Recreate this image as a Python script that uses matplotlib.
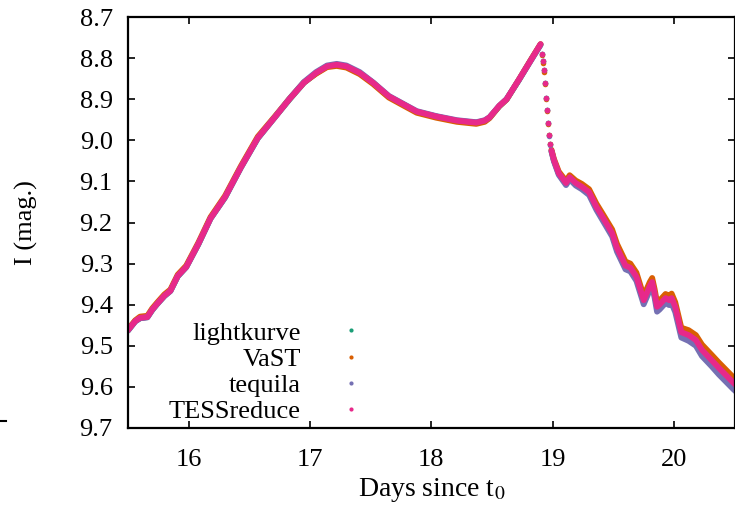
import matplotlib
matplotlib.use("Agg")
import matplotlib.pyplot as plt
from matplotlib.lines import Line2D

# time grids (days since t0): slow rise + plateau, fast drop, decline
t_rise = [15.50, 15.56, 15.60, 15.66, 15.70, 15.74, 15.80, 15.85, 15.91, 15.98,
          16.08, 16.18, 16.30, 16.43, 16.57, 16.71, 16.83, 16.95, 17.05, 17.14,
          17.22, 17.30, 17.41, 17.52, 17.65, 17.78, 17.88, 18.04, 18.21, 18.37,
          18.44, 18.48, 18.56, 18.62, 18.72, 18.82, 18.90]
t_drop = [18.910, 18.920, 18.930, 18.940, 18.946, 18.953, 18.960, 18.967, 18.974]
t_fall = [18.99, 19.01, 19.05, 19.11, 19.14, 19.19, 19.24, 19.30, 19.36, 19.41,
          19.49, 19.53, 19.60, 19.64, 19.69, 19.75, 19.80, 19.82, 19.84, 19.86,
          19.88, 19.93, 19.96, 19.98, 20.01, 20.06, 20.12, 20.18, 20.23, 20.31,
          20.37, 20.49, 20.52]

tessreduce_rise = [9.462, 9.440, 9.432, 9.430, 9.412, 9.398, 9.378, 9.366, 9.330, 9.308,
                   9.252, 9.190, 9.138, 9.066, 8.994, 8.944, 8.900, 8.860, 8.836, 8.820,
                   8.816, 8.820, 8.836, 8.860, 8.893, 8.914, 8.930, 8.942, 8.952, 8.957,
                   8.952, 8.944, 8.916, 8.900, 8.853, 8.805, 8.766]
tessreduce_drop = [8.790, 8.807, 8.830, 8.860, 8.897, 8.926, 8.958, 8.987, 9.010]
tessreduce_fall = [9.025, 9.048, 9.080, 9.104, 9.090, 9.104, 9.113, 9.126, 9.162, 9.186,
                   9.226, 9.262, 9.305, 9.310, 9.332, 9.389, 9.355, 9.345, 9.372, 9.405,
                   9.400, 9.384, 9.389, 9.384, 9.405, 9.467, 9.474, 9.486, 9.510, 9.535,
                   9.554, 9.590, 9.598]

vast_rise = [9.460, 9.438, 9.429, 9.427, 9.409, 9.395, 9.375, 9.363, 9.327, 9.305,
             9.249, 9.187, 9.135, 9.063, 8.991, 8.942, 8.899, 8.859, 8.838, 8.822,
             8.819, 8.823, 8.839, 8.863, 8.896, 8.917, 8.933, 8.945, 8.955, 8.960,
             8.955, 8.946, 8.917, 8.901, 8.853, 8.804, 8.766]
vast_drop = [8.792, 8.812, 8.834, 8.864, 8.899, 8.929, 8.960, 8.988, 9.008]
vast_fall = [9.023, 9.045, 9.076, 9.099, 9.085, 9.098, 9.106, 9.119, 9.154, 9.178,
             9.217, 9.252, 9.295, 9.300, 9.322, 9.379, 9.345, 9.335, 9.362, 9.395,
             9.390, 9.374, 9.378, 9.373, 9.394, 9.456, 9.462, 9.474, 9.497, 9.522,
             9.541, 9.577, 9.585]

tequila_rise = [9.463, 9.441, 9.433, 9.431, 9.413, 9.399, 9.379, 9.367, 9.331, 9.309,
                9.253, 9.191, 9.139, 9.067, 8.995, 8.944, 8.899, 8.858, 8.834, 8.818,
                8.814, 8.818, 8.834, 8.859, 8.892, 8.913, 8.929, 8.941, 8.951, 8.956,
                8.951, 8.944, 8.916, 8.900, 8.854, 8.806, 8.768]
tequila_drop = [8.791, 8.807, 8.829, 8.860, 8.896, 8.926, 8.959, 8.989, 9.012]
tequila_fall = [9.027, 9.051, 9.084, 9.109, 9.095, 9.110, 9.119, 9.133, 9.169, 9.194,
                9.234, 9.271, 9.314, 9.319, 9.342, 9.399, 9.365, 9.356, 9.383, 9.417,
                9.412, 9.396, 9.401, 9.397, 9.418, 9.480, 9.488, 9.500, 9.525, 9.550,
                9.570, 9.606, 9.614]

lightkurve_rise = [9.463, 9.440, 9.433, 9.430, 9.413, 9.398, 9.379, 9.366, 9.331, 9.308,
                   9.253, 9.190, 9.139, 9.066, 8.995, 8.944, 8.901, 8.860, 8.837, 8.820,
                   8.817, 8.820, 8.837, 8.860, 8.894, 8.914, 8.931, 8.942, 8.953, 8.957,
                   8.953, 8.944, 8.917, 8.900, 8.854, 8.805, 8.767]
lightkurve_drop = [8.790, 8.807, 8.830, 8.860, 8.897, 8.926, 8.958, 8.987, 9.010]
lightkurve_fall = [9.026, 9.049, 9.081, 9.105, 9.091, 9.105, 9.114, 9.127, 9.163, 9.187,
                   9.227, 9.263, 9.306, 9.311, 9.333, 9.390, 9.356, 9.346, 9.373, 9.406,
                   9.401, 9.385, 9.390, 9.385, 9.406, 9.468, 9.475, 9.487, 9.511, 9.536,
                   9.555, 9.591, 9.599]

labels = ["lightkurve", "VaST", "tequila", "TESSreduce"]
colors = ["#1b9e77", "#d95f02", "#7570b3", "#e7298a"]
series = [(lightkurve_rise, lightkurve_drop, lightkurve_fall),
          (vast_rise, vast_drop, vast_fall),
          (tequila_rise, tequila_drop, tequila_fall),
          (tessreduce_rise, tessreduce_drop, tessreduce_fall)]

x_ticks = [16, 17, 18, 19, 20]
y_ticks = [8.7, 8.8, 8.9, 9.0, 9.1, 9.2, 9.3, 9.4, 9.5, 9.6, 9.7]

plt.rcParams["font.family"] = ["Liberation Serif", "DejaVu Serif"]
plt.rcParams["mathtext.fontset"] = "stix"

fig = plt.figure(figsize=(7.35, 5.08), dpi=100)
ax = fig.add_axes([0.1741, 0.1575, 0.8255, 0.809])

for (rise, drop, fall), c in zip(series, colors):
    ax.plot(t_rise, rise, "-", color=c, lw=4.2, solid_capstyle="round",
            solid_joinstyle="round")
    ax.plot(t_drop, drop, "o", color=c, ms=4.0, mew=0)
    ax.plot(t_fall, fall, "-", color=c, lw=4.2, solid_capstyle="round",
            solid_joinstyle="round")

ax.set_xlim(15.5, 20.5)
ax.set_ylim(9.7, 8.7)
ax.set_xticks(x_ticks)
ax.set_yticks(y_ticks)
ax.set_yticklabels([f"{v:.1f}" for v in y_ticks])
ax.tick_params(direction="in", length=5, width=1.2, top=True, right=True,
               labelsize=19)
ax.tick_params(axis="x", pad=15)
ax.tick_params(axis="y", pad=11)
for s in ax.spines.values():
    s.set_linewidth(1.6)

ax.set_xlabel("Days since t$_0$", fontsize=20, labelpad=4)
ax.set_ylabel("I (mag.)", fontsize=19, labelpad=30)

handles = [Line2D([], [], ls="none", marker="o", ms=3.0, mew=0, color=c) for c in colors]
ax.legend(handles, labels, loc="lower right", bbox_to_anchor=(0.385, 0.012),
          frameon=False, markerfirst=False, fontsize=19, handlelength=0.8,
          handletextpad=1.5, labelspacing=0.1, borderpad=0, borderaxespad=0)

# stray tick from the neighbouring panel at the far left edge
fig.add_artist(Line2D([0.0, 0.008], [1 - 421 / 508, 1 - 421 / 508],
                      color="black", lw=1.5, transform=fig.transFigure))

fig.savefig("out.png", dpi=100)
